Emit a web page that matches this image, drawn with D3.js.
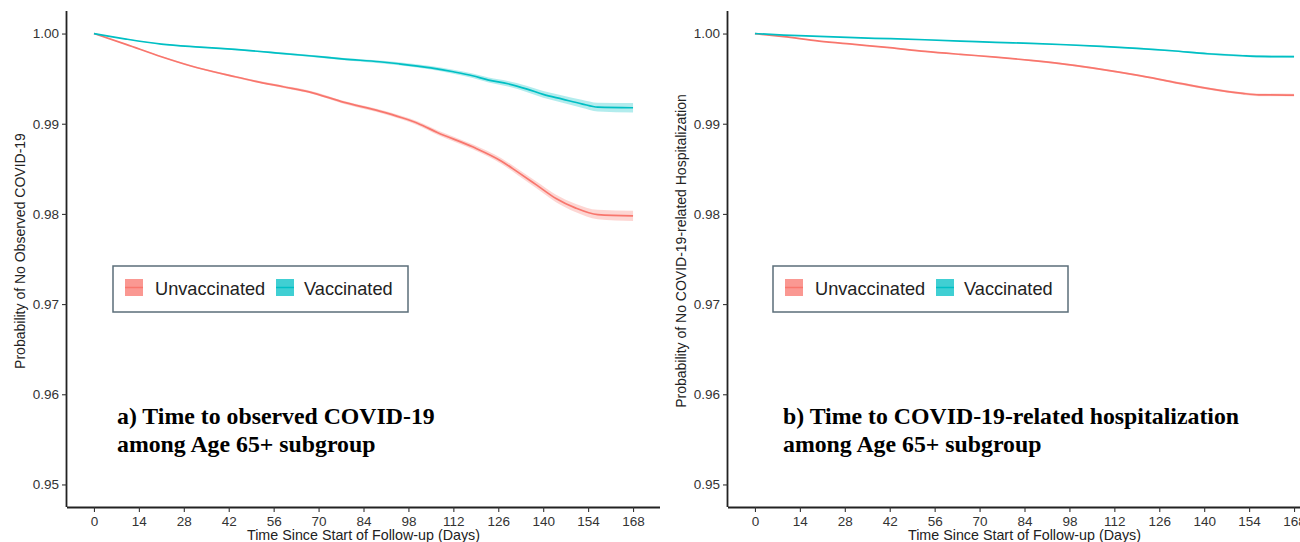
<!DOCTYPE html>
<html><head><meta charset="utf-8">
<script src="https://cdn.jsdelivr.net/npm/d3@7/dist/d3.min.js"></script>
<style>body{margin:0;background:#fff}svg{display:block}</style>
</head><body><svg id="c" width="1300" height="542"></svg>
<script>
// ---- Data ----
const xTicks = [0,14,28,42,56,70,84,98,112,126,140,154,168];
const yTicks = [0.95,0.96,0.97,0.98,0.99,1.00];
const seriesNames = ["Unvaccinated","Vaccinated"];
const seriesColors = ["#F8766D","#00BFC4"];

// Panel a) observed COVID-19
const daysA_unvax = [0,10,21,30,44,50,59,67,78,89,96,101,107,118,127,132,138,144,150,157,168];
const survA_unvax = [1,0.9988,0.99743,0.99643,0.99521,0.99473,0.9941,0.99354,0.99236,0.9914,0.99066,0.99003,0.98903,0.98744,0.98585,0.98466,0.98319,0.98171,0.98067,0.97993,0.97978];
const ciA_unvax   = [0,0.00005,0.00007,0.00008,0.0001,0.00011,0.00013,0.00014,0.00016,0.00018,0.0002,0.00022,0.00025,0.00028,0.00032,0.00035,0.00038,0.00042,0.00047,0.00052,0.00056];
const daysA_vax   = [0,10,21,33,44,55,67,78,89,95,105,112,118,123,129,135,140,146,152,157,168];
const survA_vax   = [1,0.99939,0.99883,0.9985,0.99824,0.99791,0.99754,0.99717,0.99687,0.99665,0.9962,0.99576,0.99532,0.99484,0.99443,0.99384,0.99325,0.99273,0.99221,0.99184,0.99177];
const ciA_vax     = [0,0.00003,0.00005,0.00006,0.00008,0.00009,0.00011,0.00013,0.00015,0.00017,0.0002,0.00022,0.00025,0.00028,0.00031,0.00034,0.00037,0.0004,0.00044,0.00048,0.00052];

// Panel b) COVID-19-related hospitalization
const daysB       = [0,9,20,31,42,53,64,75,86,97,108,119,130,141,152,157,168];
const survB_unvax = [1,0.99965,0.99917,0.9988,0.99843,0.99802,0.99769,0.99739,0.99702,0.99658,0.99603,0.99539,0.99465,0.99392,0.99336,0.99321,0.99317];
const ciB_unvax   = [0,0.00002,0.00003,0.00004,0.00005,0.00006,0.00006,0.00007,0.00008,0.00009,0.0001,0.00011,0.00012,0.00013,0.00014,0.00015,0.00015];
const survB_vax   = [1,0.99983,0.99969,0.99954,0.99943,0.99931,0.99917,0.99902,0.99891,0.99876,0.99858,0.99836,0.99809,0.99776,0.99754,0.99747,0.99743];
const ciB_vax     = [0,0.00001,0.00002,0.00003,0.00003,0.00004,0.00004,0.00005,0.00005,0.00006,0.00007,0.00008,0.00009,0.0001,0.00011,0.00012,0.00012];

const titlesA = ["a) Time to observed COVID-19","among Age 65+ subgroup"];
const titlesB = ["b) Time to COVID-19-related hospitalization","among Age 65+ subgroup"];
const yLabelA = "Probability of No Observed COVID-19";
const yLabelB = "Probability of No COVID-19-related Hospitalization";
const xLabel  = "Time Since Start of Follow-up (Days)";

// ---- Drawing ----
const svg = d3.select("#c");
const zip = (d, s, c) => d.map((v,i)=>({t:v, s:s[i], lo:s[i]-c[i], hi:s[i]+c[i]}));

const panels = [
  {left:67, titles:titlesA, yLabel:yLabelA,
   series:[zip(daysA_unvax,survA_unvax,ciA_unvax), zip(daysA_vax,survA_vax,ciA_vax)],
   titleX:117, legendX:113},
  {left:728, titles:titlesB, yLabel:yLabelB,
   series:[zip(daysB,survB_unvax,ciB_unvax), zip(daysB,survB_vax,ciB_vax)],
   titleX:783, legendX:773}
];

const topY = 11, bottomY = 507, pw = 593;

panels.forEach(p => {
  const x = d3.scaleLinear().domain([-8.4,176.4]).range([p.left, p.left+pw]);
  const y = d3.scaleLinear().domain([0.9475,1.0025]).range([bottomY, topY]);
  const g = svg.append("g");

  p.series.forEach((data,i) => {
    g.append("path").datum(data)
      .attr("d", d3.area().x(d=>x(d.t)).y0(d=>y(d.lo)).y1(d=>y(d.hi)).curve(d3.curveMonotoneX))
      .attr("fill", seriesColors[i]).attr("fill-opacity",0.3).attr("stroke","none");
  });
  p.series.forEach((data,i) => {
    g.append("path").datum(data)
      .attr("d", d3.line().x(d=>x(d.t)).y(d=>y(d.s)).curve(d3.curveMonotoneX))
      .attr("fill","none").attr("stroke", seriesColors[i]).attr("stroke-width",1.7);
  });

  const ax = g.append("g").attr("transform",`translate(0,${bottomY})`)
    .call(d3.axisBottom(x).tickValues(xTicks).tickSize(5).tickSizeOuter(0).tickPadding(4));
  const ay = g.append("g").attr("transform",`translate(${p.left},0)`)
    .call(d3.axisLeft(y).tickValues(yTicks).tickFormat(d3.format(".2f")).tickSize(5).tickSizeOuter(0).tickPadding(3));
  [ax,ay].forEach(a => {
    a.select(".domain").attr("stroke","#222").attr("stroke-width",1.8);
    a.selectAll(".tick line").attr("stroke","#333").attr("stroke-width",1.1);
    a.selectAll(".tick text").attr("fill","#333").attr("font-family","Liberation Sans, Arial, sans-serif").attr("font-size",13.5);
  });
  ax.select(".domain").attr("d",`M${p.left},0.5H${p.left+pw}`);
  ay.select(".domain").attr("d",`M-0.5,${topY}V${bottomY}`);

  g.append("text").attr("x", p.left+pw/2).attr("y", 540).attr("text-anchor","middle")
    .attr("font-family","Liberation Sans, Arial, sans-serif").attr("font-size",14.3).attr("fill","#222")
    .text(xLabel);
  g.append("text").attr("transform",`translate(${p.left-42},${251}) rotate(-90)`)
    .attr("text-anchor","middle")
    .attr("font-family","Liberation Sans, Arial, sans-serif").attr("font-size",14).attr("fill","#222")
    .text(p.yLabel);

  const lg = g.append("g").attr("transform",`translate(${p.legendX},266)`);
  lg.append("rect").attr("x",0).attr("y",0).attr("width",295).attr("height",46)
    .attr("fill","#fff").attr("stroke","#5b6e79").attr("stroke-width",1.5);
  const keyX = [12, 163], textX = [42, 191];
  seriesNames.forEach((n,i) => {
    lg.append("rect").attr("x",keyX[i]).attr("y",13).attr("width",18).attr("height",17)
      .attr("fill",seriesColors[i]).attr("fill-opacity",0.75);
    lg.append("line").attr("x1",keyX[i]).attr("x2",keyX[i]+18).attr("y1",21.5).attr("y2",21.5)
      .attr("stroke",seriesColors[i]).attr("stroke-width",1.5);
    lg.append("text").attr("x",textX[i]).attr("y",28.5)
      .attr("font-family","Liberation Sans, Arial, sans-serif").attr("font-size",18.2).attr("fill","#222")
      .text(n);
  });

  p.titles.forEach((t,i) => {
    g.append("text").attr("x",p.titleX).attr("y",424+i*27.5)
      .attr("font-family","Liberation Serif, Times New Roman, serif").attr("font-weight","bold")
      .attr("font-size",23.8).attr("fill","#000").text(t);
  });
});
</script></body></html>
